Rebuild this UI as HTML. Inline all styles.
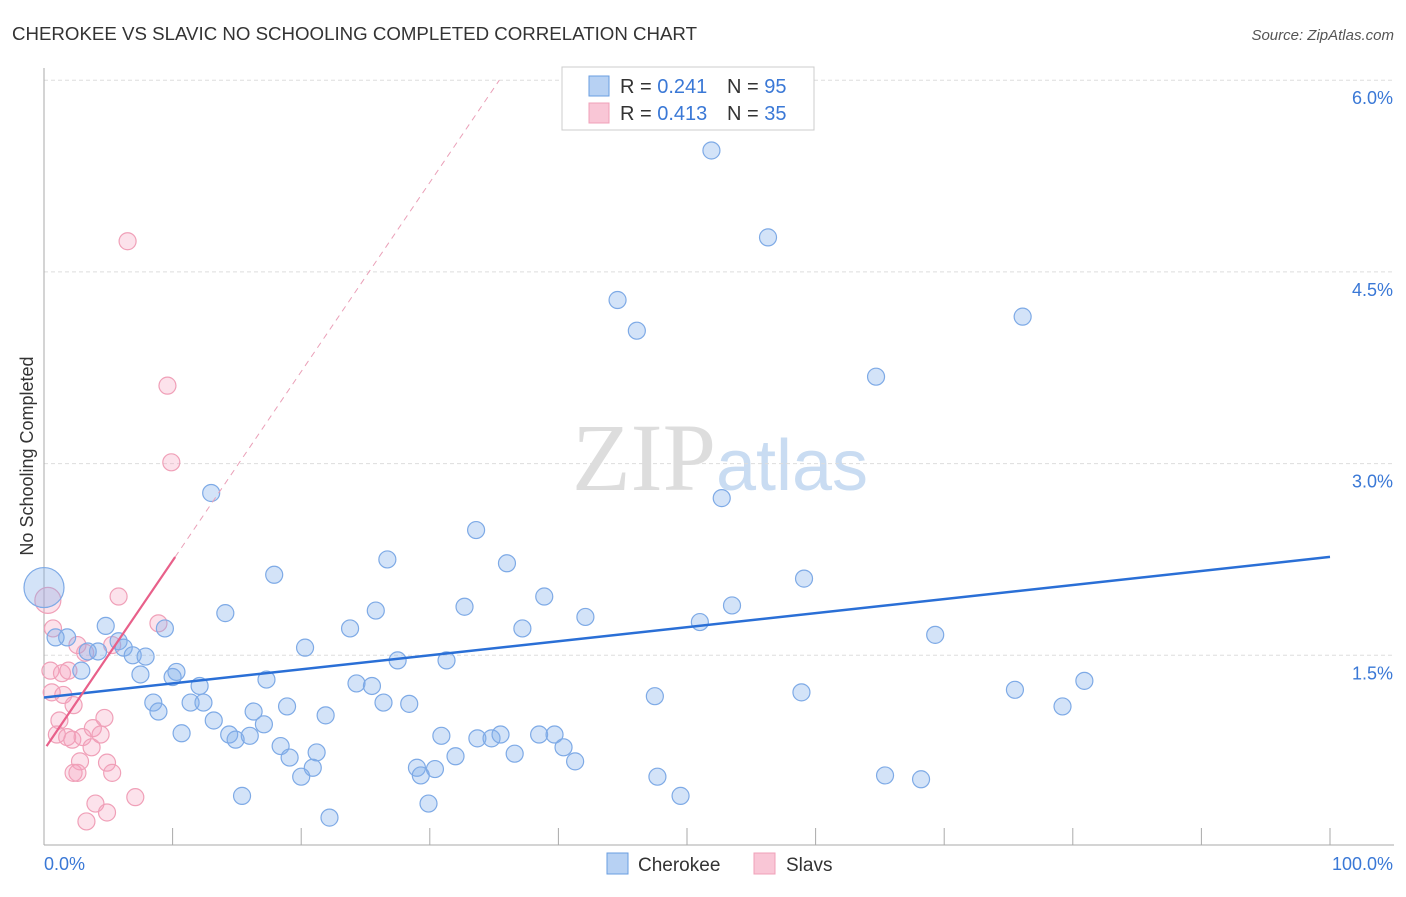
<!DOCTYPE html>
<html><head><meta charset="utf-8"><style>
body{margin:0;background:#fff;font-family:"Liberation Sans",sans-serif;}
</style></head><body>
<svg id="chart" width="1406" height="892" xmlns="http://www.w3.org/2000/svg" font-family="Liberation Sans, sans-serif">
<text x="12" y="40" font-size="18" fill="#333" textLength="685" lengthAdjust="spacingAndGlyphs">CHEROKEE VS SLAVIC NO SCHOOLING COMPLETED CORRELATION CHART</text>
<text x="1394" y="40" font-size="15" fill="#555" text-anchor="end" font-style="italic">Source: ZipAtlas.com</text>
<text transform="translate(33,456) rotate(-90)" font-size="18" fill="#333" text-anchor="middle">No Schooling Completed</text>
<text x="720" y="490" font-size="96" text-anchor="middle" fill="#ddd" font-family="Liberation Serif, serif">ZIP<tspan fill="#c9dcf2" font-family="Liberation Sans, sans-serif" font-size="72">atlas</tspan></text>
<g id="grid"></g><g id="axes"></g><g id="marks"></g>
<g>
<rect x="562" y="67" width="252" height="63" fill="#fff" stroke="#ccc"/>
<rect x="589" y="76" width="20" height="20" fill="#b7d1f3" stroke="#6a9ee0"/>
<rect x="589" y="103" width="20" height="20" fill="#f9c6d6" stroke="#f0a0b8"/>
<text x="620" y="93" font-size="20" fill="#333">R = <tspan fill="#3a78d6">0.241</tspan></text>
<text x="727" y="93" font-size="20" fill="#333">N = <tspan fill="#3a78d6">95</tspan></text>
<text x="620" y="120" font-size="20" fill="#333">R = <tspan fill="#3a78d6">0.413</tspan></text>
<text x="727" y="120" font-size="20" fill="#333">N = <tspan fill="#3a78d6">35</tspan></text>
</g>
<g>
<rect x="607" y="853" width="21" height="21" fill="#b7d1f3" stroke="#6a9ee0"/>
<text x="638" y="871" font-size="19" fill="#333">Cherokee</text>
<rect x="754" y="853" width="21" height="21" fill="#f9c6d6" stroke="#f0a0b8"/>
<text x="786" y="871" font-size="19" fill="#333">Slavs</text>
</g>
</svg>
<script>
const yTicks=[1.5,3.0,4.5,6.0];
const yTickLabels=["1.5%","3.0%","4.5%","6.0%"];
const xTickCount=10;
const cherokeeX=[51.9,56.3,44.6,46.1,76.1,64.7,13.0,52.7,33.6,26.7,36.0,17.9,59.1,38.9,32.7,25.8,53.5,14.1,42.1,9.4,23.8,37.2,51.0,69.3,20.3,27.5,31.3,4.8,5.8,4.2,1.8,0.9,3.4,6.2,6.9,7.9,2.9,7.5,10.3,10.0,12.1,17.3,24.3,25.5,47.5,58.9,75.5,80.9,8.5,8.9,11.4,12.4,18.9,26.4,28.4,16.3,21.9,13.2,17.1,79.2,10.7,14.4,14.9,16.0,18.4,30.9,33.7,34.8,35.5,38.5,39.7,40.4,21.2,19.1,36.6,32.0,29.0,30.4,20.9,20.0,29.3,41.3,47.7,65.4,68.2,15.4,49.5,29.9,22.2,0];
const cherokeeY=[5.45,4.77,4.28,4.04,4.15,3.68,2.77,2.73,2.48,2.25,2.22,2.13,2.10,1.96,1.88,1.85,1.89,1.83,1.80,1.71,1.71,1.71,1.76,1.66,1.56,1.46,1.46,1.73,1.61,1.53,1.64,1.64,1.53,1.56,1.50,1.49,1.38,1.35,1.37,1.33,1.26,1.31,1.28,1.26,1.18,1.21,1.23,1.30,1.13,1.06,1.13,1.13,1.10,1.13,1.12,1.06,1.03,0.99,0.96,1.10,0.89,0.88,0.84,0.87,0.79,0.87,0.85,0.85,0.88,0.88,0.88,0.78,0.74,0.70,0.73,0.71,0.62,0.61,0.62,0.55,0.56,0.67,0.55,0.56,0.53,0.40,0.40,0.34,0.23,2.03];
const slavsX=[6.5,9.6,9.9,5.8,0.3,0.7,2.6,3.2,5.3,8.9,0.5,1.4,1.9,0.6,1.5,2.3,1.2,4.7,1.0,1.8,2.2,3.0,3.8,4.4,3.7,2.8,4.9,2.3,2.6,5.3,7.1,4.0,4.9,3.3];
const slavsY=[4.74,3.61,3.01,1.96,1.93,1.71,1.58,1.52,1.58,1.75,1.38,1.36,1.38,1.21,1.19,1.11,0.99,1.01,0.88,0.86,0.84,0.86,0.93,0.88,0.78,0.67,0.66,0.58,0.58,0.58,0.39,0.34,0.27,0.20];
const cherokeeTrend=[1.17,2.27];
const slavsTrend=[0.76,0.148];
const NS="http://www.w3.org/2000/svg";
const X0=44,X1=1330,Y0=847,YS=127.8;
const xs=v=>X0+v/100*(X1-X0), ys=v=>Y0-v*YS;
function mk(t,a,p){const e=document.createElementNS(NS,t);for(const k in a)e.setAttribute(k,a[k]);p.appendChild(e);return e;}
const grid=document.getElementById('grid'),axes=document.getElementById('axes'),marks=document.getElementById('marks');
yTicks.forEach((v,i)=>{
 const l=mk('line',{x1:X0,x2:1394,y1:ys(v),y2:ys(v),stroke:'#ddd','stroke-dasharray':'4,3'},grid);
 
 
 const t=mk('text',{x:1393,y:ys(v)+24,'font-size':18,fill:'#3a78d6','text-anchor':'end'},axes);
 t.textContent=yTickLabels[i];
 
 
});
let a=mk('line',{x1:X0,x2:X0,y1:68,y2:845,stroke:'#aaa'},axes);


a=mk('line',{x1:X0,x2:1394,y1:845,y2:845,stroke:'#aaa'},axes);


for(let i=0;i<=xTickCount;i++){const x=xs(i*100/xTickCount);
 const t=mk('line',{x1:x,x2:x,y1:828,y2:845,stroke:'#aaa'},axes);
 
 }
let t=mk('text',{x:44,y:870,'font-size':18,fill:'#3a78d6'},axes);t.textContent='0.0%';


t=mk('text',{x:1393,y:870,'font-size':18,fill:'#3a78d6','text-anchor':'end'},axes);t.textContent='100.0%';


slavsX.forEach((v,i)=>{const c=mk('circle',{cx:xs(v),cy:ys(slavsY[i]),r:i==4?13:8.5,fill:'rgba(244,160,188,0.3)',stroke:'#f0a0b8','stroke-width':1.2},marks);
 
 });
cherokeeX.forEach((v,i)=>{const c=mk('circle',{cx:xs(v),cy:ys(cherokeeY[i]),r:i==cherokeeX.length-1?20:8.5,fill:'rgba(130,175,235,0.35)',stroke:'#7eaae6','stroke-width':1.2},marks);
 
 });
let L=mk('line',{x1:xs(0),y1:ys(cherokeeTrend[0]),x2:xs(100),y2:ys(cherokeeTrend[1]),stroke:'#2a6fd6','stroke-width':2.5},marks);


const sy=x=>slavsTrend[0]+slavsTrend[1]*x;
L=mk('line',{x1:xs(0.2),y1:ys(sy(0.2)),x2:xs(10.2),y2:ys(sy(10.2)),stroke:'#e8608a','stroke-width':2.2},marks);


const xe=(6.0-slavsTrend[0])/slavsTrend[1];
L=mk('line',{x1:xs(10.2),y1:ys(sy(10.2)),x2:xs(xe),y2:ys(6.0),stroke:'#eaa0b8','stroke-width':1,'stroke-dasharray':'6,5'},marks);


</script>
</body></html>
